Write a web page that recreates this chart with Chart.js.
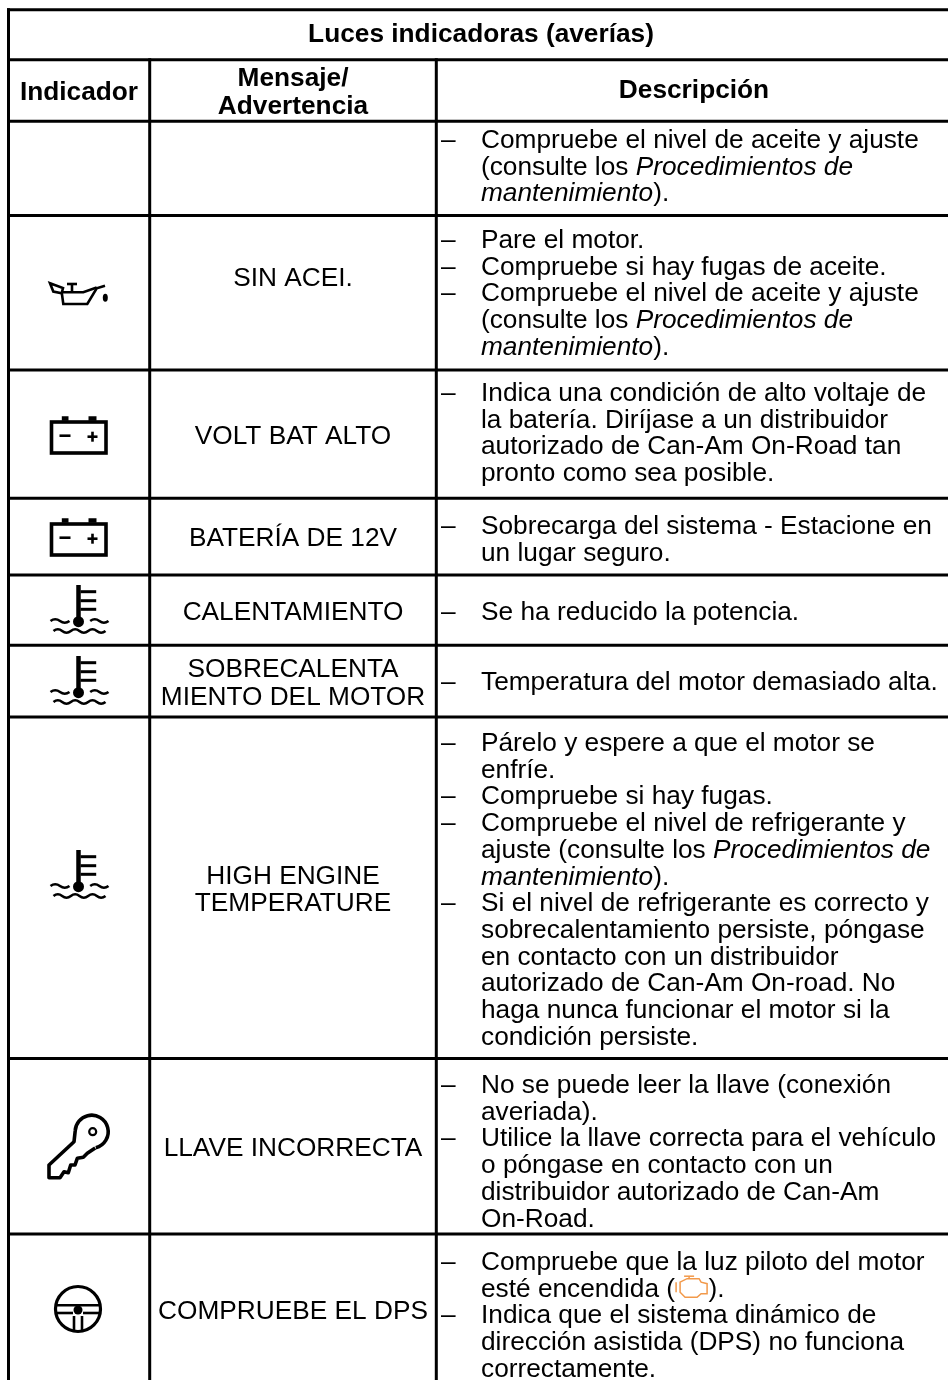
<!DOCTYPE html>
<html lang="es">
<head>
<meta charset="utf-8">
<title>Luces indicadoras (averías)</title>
<script src="https://cdn.jsdelivr.net/npm/chart.js@4"></script>
<style>
  html, body { margin: 0; padding: 0; background: #fff; }
  canvas { display: block; }
</style>
</head>
<body>
<canvas id="chart" width="948" height="1380"></canvas>
<script>
// Tabla: bordes de columnas y filas (in valori di scala)
const colEdges = [8.5, 149.7, 436.3];
const rowEdges = [9.8, 59.7, 121.3, 215.5, 370, 498.2, 575, 645.3, 717, 1058.5, 1234];

const titleText = 'Luces indicadoras (averías)';
const headCols = ['Indicador', 'Mensaje/\nAdvertencia', 'Descripción'];

// Mensajes: testo e baseline
const messages = ['SIN ACEI.', 'VOLT BAT ALTO', 'BATERÍA DE 12V', 'CALENTAMIENTO',
  'SOBRECALENTA', 'MIENTO DEL MOTOR', 'HIGH ENGINE', 'TEMPERATURE', 'LLAVE INCORRECTA', 'COMPRUEBE EL DPS'];
const messageBase = [286, 444, 546, 620, 677, 705, 884, 911, 1156, 1319];

// Descripción: "– " = punto elenco, *...* = corsivo, @ = icona motore
const descFirstBase = [148, 248, 401, 534, 620, 690, 751, 1093, 1270];
const descRows = [
  ['– Compruebe el nivel de aceite y ajuste', '(consulte los *Procedimientos de*', '*mantenimiento*).'],
  ['– Pare el motor.', '– Compruebe si hay fugas de aceite.', '– Compruebe el nivel de aceite y ajuste',
    '(consulte los *Procedimientos de*', '*mantenimiento*).'],
  ['– Indica una condición de alto voltaje de', 'la batería. Diríjase a un distribuidor',
    'autorizado de Can-Am On-Road tan', 'pronto como sea posible.'],
  ['– Sobrecarga del sistema - Estacione en', 'un lugar seguro.'],
  ['– Se ha reducido la potencia.'],
  ['– Temperatura del motor demasiado alta.'],
  ['– Párelo y espere a que el motor se', 'enfríe.', '– Compruebe si hay fugas.',
    '– Compruebe el nivel de refrigerante y', 'ajuste (consulte los *Procedimientos de*', '*mantenimiento*).',
    '– Si el nivel de refrigerante es correcto y', 'sobrecalentamiento persiste, póngase',
    'en contacto con un distribuidor', 'autorizado de Can-Am On-road. No',
    'haga nunca funcionar el motor si la', 'condición persiste.'],
  ['– No se puede leer la llave (conexión', 'averiada).', '– Utilice la llave correcta para el vehículo',
    'o póngase en contacto con un', 'distribuidor autorizado de Can-Am', 'On-Road.'],
  ['– Compruebe que la luz piloto del motor', 'esté encendida (@).', '– Indica que el sistema dinámico de',
    'dirección asistida (DPS) no funciona', 'correctamente.']
];

// Icone
const iconKinds = ['oil', 'battery', 'battery', 'temp', 'temp', 'temp', 'key', 'wheel'];
const iconX = [79, 78.5, 78.5, 78.5, 78.5, 78.5, 79, 78];
const iconY = [294, 435, 537, 610, 681, 875, 1146, 1309];

const FONT = '"Liberation Sans", Arial, sans-serif';
const SIZE = 26.25;
const PITCH = 26.7;

function stroke(ctx, pts, close) {
  ctx.beginPath();
  pts.forEach((p, i) => i ? ctx.lineTo(p[0], p[1]) : ctx.moveTo(p[0], p[1]));
  if (close) ctx.closePath();
  ctx.stroke();
}

function wave(ctx, x0, x1, y, n) {
  const step = (x1 - x0) / n;
  ctx.beginPath();
  ctx.moveTo(x0, y);
  for (let i = 0; i < n; i++) {
    const s = i % 2 ? 3.5 : -3.5;
    ctx.quadraticCurveTo(x0 + step * (i + 0.5), y + s, x0 + step * (i + 1), y);
  }
  ctx.stroke();
}

const iconDraw = {
  oil(ctx) {
    ctx.lineWidth = 2.6;
    stroke(ctx, [[-17.3, -1.7], [-15.7, 10], [8.3, 10], [17.7, -5.7], [26, -8.3]]);
    stroke(ctx, [[-17.3, -1.7], [4.3, -1.7], [17.7, -6.5]]);
    stroke(ctx, [[-29, -10.7], [-16, -6], [-17.3, -0.7], [-25.7, -2.5]], true);
    stroke(ctx, [[-12, -10], [-2, -10]]);
    stroke(ctx, [[-7, -10], [-7, -2]]);
    ctx.beginPath();
    ctx.ellipse(26.3, 3.7, 2.5, 4, 0, 0, Math.PI * 2);
    ctx.fill();
  },
  battery(ctx) {
    ctx.lineWidth = 3.6;
    ctx.strokeRect(-27, -13, 54.5, 31);
    ctx.lineWidth = 4.5;
    stroke(ctx, [[-16.7, -16.5], [-10, -16.5]]);
    stroke(ctx, [[10, -16.5], [18, -16.5]]);
    ctx.lineWidth = 2.6;
    stroke(ctx, [[-19, 0.7], [-8, 0.7]]);
    stroke(ctx, [[9, 1.7], [19, 1.7]]);
    stroke(ctx, [[14, -3.3], [14, 6.7]]);
  },
  temp(ctx) {
    ctx.lineWidth = 4.5;
    stroke(ctx, [[0, -25], [0, 11]]);
    ctx.beginPath();
    ctx.arc(0, 11.7, 5.5, 0, Math.PI * 2);
    ctx.fill();
    ctx.lineWidth = 3;
    [-18.3, -9.3, -0.7].forEach(y => stroke(ctx, [[2, y], [17.7, y]]));
    ctx.lineWidth = 2.6;
    wave(ctx, -28, -9, 11, 2);
    wave(ctx, 11.7, 30, 11, 2);
    wave(ctx, -25, 27, 21, 6);
  },
  key(ctx) {
    ctx.lineWidth = 3.6;
    ctx.lineJoin = 'round';
    ctx.beginPath();
    ctx.arc(12.7, -14.3, 16.5, Math.PI * 0.42, Math.PI * 1.02, true);
    ctx.lineTo(-5, -4.3);
    ctx.lineTo(-30, 19);
    [[-30, 31.7], [-19, 31.7], [-15, 25.7], [-10.7, 26.7], [-8.3, 19], [-4, 19], [-1.7, 12.3], [4.3, 11.3], [8.3, 7.3], [16.2, 2]]
      .forEach(p => ctx.lineTo(p[0], p[1]));
    ctx.stroke();
    ctx.lineWidth = 2.2;
    ctx.beginPath();
    ctx.arc(13.7, -14.3, 3.5, 0, Math.PI * 2);
    ctx.stroke();
  },
  wheel(ctx) {
    ctx.lineWidth = 3.2;
    ctx.beginPath();
    ctx.arc(0, 0, 22.5, 0, Math.PI * 2);
    ctx.stroke();
    ctx.lineWidth = 2.6;
    stroke(ctx, [[-22, -3.7], [22, -3.7]]);
    stroke(ctx, [[-22, 4], [-5, 4]]);
    stroke(ctx, [[5, 4], [22, 4]]);
    stroke(ctx, [[-4, 7], [-4, 21]]);
    stroke(ctx, [[4, 7], [4, 21]]);
    ctx.beginPath();
    ctx.arc(0, 1, 4.5, 0, Math.PI * 2);
    ctx.fill();
  },
  engine(ctx) {
    ctx.lineWidth = 1.5;
    ctx.strokeStyle = '#f2994a';
    stroke(ctx, [[-12, -5], [-5, -8.5], [7, -8.5], [9, -5], [15, -3.5], [15, 6.5], [9, 6.5], [5, 10], [-7, 10], [-12, 5]], true);
    stroke(ctx, [[-16, -5], [-16, 5]]);
    stroke(ctx, [[-8, -11], [2, -11]]);
    stroke(ctx, [[-3, -11], [-3, -8.5]]);
  }
};

// Scrive una riga con tratti corsivi e icona in linea
function drawRich(ctx, line, x, y) {
  let italic = false;
  line.split(/(\*|@)/).forEach(part => {
    if (part === '*') { italic = !italic; return; }
    if (part === '@') {
      ctx.save();
      ctx.translate(x + 17, y - 9.5);
      iconDraw.engine(ctx);
      ctx.restore();
      x += 33.5;
      return;
    }
    ctx.font = (italic ? 'italic ' : '') + SIZE + 'px ' + FONT;
    ctx.fillText(part, x, y);
    x += ctx.measureText(part).width;
  });
}

const tablePlugin = {
  id: 'tablePlugin',
  afterDatasetsDraw(chart) {
    const { ctx, scales } = chart;
    const px = v => scales.x.getPixelForValue(v);
    const py = v => scales.y.getPixelForValue(v);
    ctx.save();
    ctx.fillStyle = '#000';
    ctx.textBaseline = 'alphabetic';

    // Intestazioni
    ctx.font = 'bold ' + SIZE + 'px ' + FONT;
    ctx.textAlign = 'center';
    ctx.fillText(titleText, px(481), py(42));
    ctx.fillText(headCols[0], px(79), py(100));
    headCols[1].split('\n').forEach((t, i) => ctx.fillText(t, px(293), py(86 + i * 28)));
    ctx.fillText(headCols[2], px(694), py(98));

    // Mensajes
    ctx.font = SIZE + 'px ' + FONT;
    messages.forEach((t, i) => ctx.fillText(t, px(293), py(messageBase[i])));

    // Descripción
    ctx.textAlign = 'left';
    descRows.forEach((lines, r) => {
      lines.forEach((line, i) => {
        const y = py(descFirstBase[r] + i * PITCH);
        let text = line;
        if (text.startsWith('– ')) {
          ctx.font = SIZE + 'px ' + FONT;
          ctx.fillText('–', px(441), y);
          text = text.slice(2);
        }
        drawRich(ctx, text, px(481), y);
      });
    });

    // Icone
    iconKinds.forEach((k, i) => {
      ctx.save();
      ctx.translate(px(iconX[i]), py(iconY[i]));
      ctx.strokeStyle = '#000';
      ctx.fillStyle = '#000';
      ctx.filter = 'blur(0.5px)';
      iconDraw[k](ctx);
      ctx.restore();
    });
    ctx.restore();
  }
};

// Ogni filetto e' un dataset a due punti
const rule = pts => ({
  data: pts,
  showLine: true,
  pointRadius: 0,
  borderColor: '#000',
  borderWidth: 3,
  borderCapStyle: 'square',
  clip: false
});

const bottom = 1380, right = 948;
const datasets = [];
rowEdges.forEach(y => datasets.push(rule([{ x: colEdges[0], y }, { x: right, y }])));
datasets.push(rule([{ x: colEdges[0], y: rowEdges[0] }, { x: colEdges[0], y: bottom }]));
colEdges.slice(1).forEach(x => datasets.push(rule([{ x, y: rowEdges[1] }, { x, y: bottom }])));

const config = {
  type: 'scatter',
  data: { datasets },
  plugins: [tablePlugin],
  options: {
    responsive: false,
    animation: false,
    layout: { padding: 0 },
    plugins: { legend: { display: false }, tooltip: { enabled: false } },
    scales: {
      x: { type: 'linear', min: 0, max: right, display: false },
      y: { type: 'linear', min: 0, max: bottom, reverse: true, display: false }
    }
  }
};

const myChart = new Chart(document.getElementById('chart'), config);
</script>
</body>
</html>
